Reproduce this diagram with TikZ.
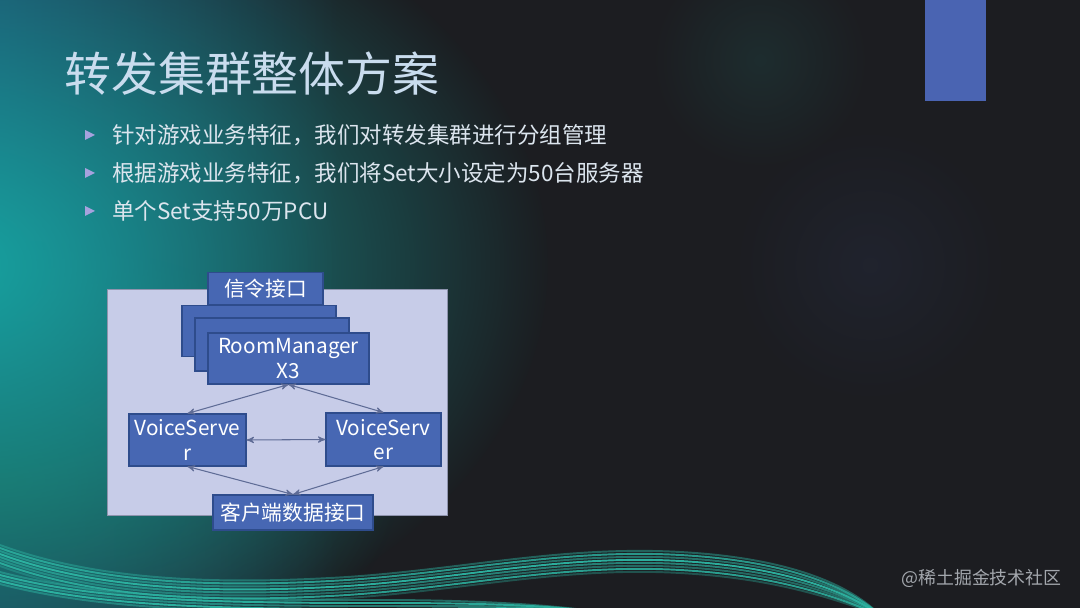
\documentclass[tikz,border=0pt]{standalone}
\usepackage{fontspec}
\setmainfont{Noto Sans CJK SC}
\usepackage{tikz}
\usetikzlibrary{arrows,fadings}

\definecolor{slidebg}{HTML}{1C1D21}
\definecolor{navyglow}{HTML}{1F4565}
\definecolor{glowteal}{HTML}{17A3A0}
\definecolor{greenglow}{HTML}{1B5A50}
\definecolor{boxblue}{HTML}{4767B3}
\definecolor{boxedge}{HTML}{2E4C8C}
\definecolor{framefill}{HTML}{C7CCE8}
\definecolor{frameedge}{HTML}{8E93AD}
\definecolor{linkgray}{HTML}{5F6C96}
\definecolor{titlecol}{HTML}{C9DCEE}
\definecolor{bulletcol}{HTML}{DCE5EE}
\definecolor{bulletlav}{HTML}{A6A2DE}
\definecolor{accentblue}{HTML}{4A64B2}
\definecolor{waveteal}{HTML}{2DB5A3}
\definecolor{markgray}{HTML}{A3A7AD}

\tikzfading[name=glowfade, inner color=transparent!0, outer color=transparent!100]
\tikzfading[name=sidefade, left color=transparent!0, right color=transparent!100]

\begin{document}
\begin{tikzpicture}[x=0.02cm, y=-0.02cm,
	block/.style={draw=boxedge, fill=boxblue, text=white, align=center, inner sep=0pt, line width=0.6pt, font=\fontsize{11.8}{14}\selectfont},
	link/.style={<->, >=stealth', draw=linkgray, line width=0.6pt},
	wave/.style={draw=waveteal, line width=1.1pt}]
	\useasboundingbox (0,0) rectangle (1080,608);
	\clip (0,0) rectangle (1080,608);
	
	% background
	\fill[slidebg] (0,0) rectangle (1080,608);
	\fill[navyglow, path fading=sidefade] (0,0) rectangle (340,608);
	\fill[greenglow, path fading=glowfade] (0,480) ellipse (400 and 240);
	\fill[glowteal, path fading=glowfade] (-50,265) ellipse (600 and 420);
	\fill[waveteal!35!slidebg, path fading=glowfade, opacity=0.3] (760,60) circle (110);
	\fill[accentblue!30!slidebg, path fading=glowfade, opacity=0.3] (870,265) circle (140);
	
	% waves
	\foreach \o/\op in {0/0.45,3/0.8,6/0.55,9/0.95,12/0.65,15/0.5,18/0.85,21/0.35} {
		\draw[wave, opacity=\op] (0,545+\o) .. controls (90,578+\o) and (200,585+\o) .. (330,578+\o)
			.. controls (450,572+\o) and (560,545+\o) .. (680,552+\o)
			.. controls (790,558+\o) and (850,585+\o) .. (880,615);
	}
	\foreach \o/\op in {0/0.5,3/0.9,6/0.6,9/0.95,12/0.5} {
		\draw[wave, opacity=\op] (0,572+\o) .. controls (100,598+\o) and (220,600+\o) .. (380,600+\o)
			.. controls (480,600+\o) and (560,605) .. (620,615);
	}
	
	\fill[accentblue] (925,0) rectangle (986,101);
	
	% title and bullets
	\node[anchor=west, inner sep=0pt, text=titlecol, font=\fontsize{26.7}{30}\selectfont] (title) at (64,74) {转发集群整体方案};
	\foreach \yy/\txt [count=\n] in {135/{针对游戏业务特征，我们对转发集群进行分组管理},
		173/{根据游戏业务特征，我们将Set大小设定为50台服务器},
		211/{单个Set支持50万PCU}} {
		\fill[bulletlav] (85,\yy-5) -- (95,\yy) -- (85,\yy+5) -- cycle;
		\node[anchor=west, inner sep=0pt, text=bulletcol, font=\fontsize{12.8}{15}\selectfont] (bullet\n) at (112,\yy) {\txt};
	}
	
	% diagram
	\node[draw=frameedge, fill=framefill, minimum width=6.8cm, minimum height=4.52cm, line width=0.5pt] (frame) at (277,402) {};
	
	\node[block, minimum width=3.08cm, minimum height=1.02cm] (rmback) at (259,331) {};
	\node[block, minimum width=3.08cm, minimum height=1.06cm] (rmmid) at (272,344.5) {};
	\node[block, minimum width=3.22cm, minimum height=1.02cm] (rm) at (288.5,358.5) {RoomManager\\X3};
	\node[block, minimum width=2.3cm, minimum height=0.64cm] (signal) at (265.5,288.5) {信令接口};
	
	\node[block, minimum width=2.34cm, minimum height=1.04cm] (vsleft) at (187.5,440) {VoiceServe\\r};
	\node[block, minimum width=2.3cm, minimum height=1.06cm] (vsright) at (383.5,439.5) {VoiceServ\\er};
	\node[block, minimum width=3.2cm, minimum height=0.7cm] (client) at (293,512.5) {客户端数据接口};
	
	\draw[link] (rm.south) -- (vsleft.north);
	\draw[link] (rm.south) -- (vsright.north);
	\draw[link] (vsleft.east) -- (vsright.west);
	\draw[link] (vsleft.south) -- (client.north);
	\draw[link] (vsright.south) -- (client.north);
	
	\node[anchor=east, inner sep=0pt, text=markgray, font=\fontsize{10.2}{12}\selectfont] (mark) at (1062,578) {@稀土掘金技术社区};
\end{tikzpicture}
\end{document}
